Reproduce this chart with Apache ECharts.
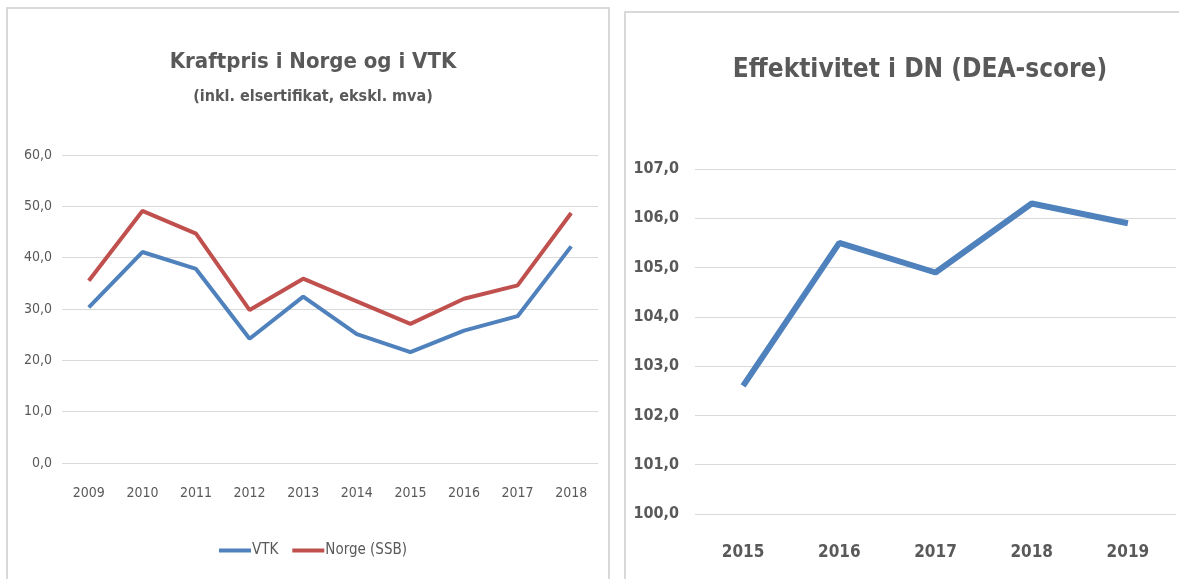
<!DOCTYPE html>
<html>
<head>
<meta charset="utf-8">
<script src="https://cdn.jsdelivr.net/npm/echarts@6/dist/echarts.min.js"></script>
<style>
  html, body { margin: 0; padding: 0; background: #fff; }
  #main { width: 1179px; height: 579px; }
</style>
</head>
<body>
<div id="main"></div>
<script>
	// venstre figur: kraftpris
	var aarKraft = ['2009', '2010', '2011', '2012', '2013', '2014', '2015', '2016', '2017', '2018'];
	var vtk = [30.3, 41.1, 37.8, 24.2, 32.4, 25.1, 21.6, 25.8, 28.6, 42.2];
	var norgeSSB = [35.5, 49.1, 44.7, 29.8, 35.9, 31.5, 27.1, 32.0, 34.6, 48.7];

	// høyre figur: DEA-score
	var aarDea = ['2015', '2016', '2017', '2018', '2019'];
	var deaScore = [102.6, 105.5, 104.9, 106.3, 105.9];

	var font = "'Liberation Sans Narrow', 'DejaVu Sans Condensed', 'Open Sans', sans-serif";
	var grey = '#595959';
	var blue = '#4f81bd';
	var red = '#c0504d';

	function komma(v) {
		return v.toFixed(1).replace('.', ',');
	}

	var chart = echarts.init(document.getElementById('main'));
	chart.setOption({
		animation: false,
		textStyle: { fontFamily: font },
		graphic: [
			{ type: 'rect', shape: { x: 7, y: 8, width: 602, height: 580 }, style: { fill: 'none', stroke: '#d9d9d9', lineWidth: 2 }, silent: true },
			{ type: 'rect', shape: { x: 625, y: 12, width: 570, height: 580 }, style: { fill: 'none', stroke: '#d9d9d9', lineWidth: 2 }, silent: true }
		],
		title: [
			{
				text: 'Kraftpris i Norge og i VTK',
				subtext: '(inkl. elsertifikat, ekskl. mva)',
				left: 308, top: 46, textAlign: 'center', itemGap: 16,
				textStyle: { fontFamily: font, fontSize: 22, fontWeight: 'bold', color: grey },
				subtextStyle: { fontFamily: font, fontSize: 16, fontWeight: 'bold', color: grey }
			},
			{
				text: 'Effektivitet i DN (DEA-score)',
				left: 915, top: 52, textAlign: 'center',
				textStyle: { fontFamily: font, fontSize: 26, fontWeight: 'bold', color: grey }
			}
		],
		legend: {
			top: 538, right: 767,
			data: ['VTK', 'Norge (SSB)'],
			itemWidth: 32, itemHeight: 4, itemGap: 14,
			icon: 'rect',
			textStyle: { fontFamily: font, fontSize: 15, color: grey, padding: [0, 0, 0, -4] }
		},
		grid: [
			{ left: 62, top: 155, width: 536, height: 308 },
			{ left: 695, top: 169, width: 481, height: 345 }
		],
		xAxis: [
			{
				type: 'category', gridIndex: 0, data: aarKraft, boundaryGap: true,
				axisLine: { show: false }, axisTick: { show: false },
				axisLabel: { color: grey, fontSize: 14, margin: 23, fontFamily: font }
			},
			{
				type: 'category', gridIndex: 1, data: aarDea, boundaryGap: true,
				axisLine: { show: false }, axisTick: { show: false },
				axisLabel: { color: grey, fontSize: 17, fontWeight: 'bold', margin: 30, fontFamily: font }
			}
		],
		yAxis: [
			{
				type: 'value', gridIndex: 0, min: 0, max: 60, interval: 10,
				axisLine: { show: false }, axisTick: { show: false },
				splitLine: { lineStyle: { color: '#d9d9d9', width: 1 } },
				axisLabel: { color: grey, fontSize: 14, margin: 10, fontFamily: font, formatter: komma }
			},
			{
				type: 'value', gridIndex: 1, min: 100, max: 107, interval: 1,
				axisLine: { show: false }, axisTick: { show: false },
				splitLine: { lineStyle: { color: '#d9d9d9', width: 1 } },
				axisLabel: { color: grey, fontSize: 16, fontWeight: 'bold', margin: 16, fontFamily: font, formatter: komma }
			}
		],
		series: [
			{
				name: 'VTK', type: 'line', xAxisIndex: 0, yAxisIndex: 0, data: vtk,
				symbol: 'none', color: blue, lineStyle: { width: 4, color: blue }
			},
			{
				name: 'Norge (SSB)', type: 'line', xAxisIndex: 0, yAxisIndex: 0, data: norgeSSB,
				symbol: 'none', color: red, lineStyle: { width: 4, color: red }
			},
			{
				name: 'DEA-score', type: 'line', xAxisIndex: 1, yAxisIndex: 1, data: deaScore,
				symbol: 'none', color: blue, lineStyle: { width: 6, color: blue }
			}
		]
	});
</script>
</body>
</html>
